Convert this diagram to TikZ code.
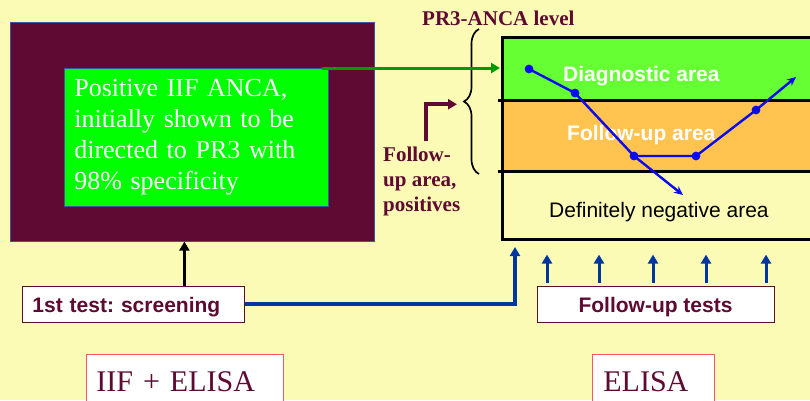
\documentclass[tikz,border=0pt]{standalone}
\usepackage{fontspec}
\setmainfont{Liberation Serif}
\setsansfont{Liberation Sans}
\frenchspacing
\usepackage{tikz}
\usetikzlibrary{arrows.meta}
\usetikzlibrary{decorations.pathreplacing}
\definecolor{bg}{HTML}{FCFBB6}
\definecolor{wine}{HTML}{5E0A32}
\definecolor{diaggreen}{HTML}{66FF33}
\definecolor{fuporange}{HTML}{FFC34F}
\definecolor{navy}{HTML}{0036A0}
\definecolor{trend}{HTML}{0A0AF0}
\definecolor{pinkline}{HTML}{FF5566}
\definecolor{rim}{HTML}{3B55A8}
\tikzset{>=Stealth}
\tikzstyle{line} = [draw, -{Triangle[length=9pt,width=10pt]}]

\begin{document}
\begin{tikzpicture}[x=1pt, y=-1pt,
		box/.style={draw=wine, fill=white, line width=0.8pt, rectangle,
			anchor=base west, inner ysep=4pt, text height=22pt, text depth=6pt,
			text=wine, font=\sffamily\bfseries\fontsize{21}{25}\selectfont},
		method/.style={draw=pinkline, fill=white, line width=0.8pt, rectangle,
			anchor=base west, inner xsep=10pt, inner ysep=15pt, text height=22pt,
			text depth=20pt, align=left, text=wine, font=\fontsize{30}{36}\selectfont},
		area/.style={anchor=base west, inner sep=0pt,
			font=\sffamily\fontsize{21}{25}\selectfont},
		winetext/.style={anchor=base west, inner sep=0pt, align=left, text=wine,
			font=\bfseries\fontsize{21}{25}\selectfont}]
		\useasboundingbox (0,0) rectangle (810,400);
		\clip (0,0) rectangle (810,400);
		\fill [bg] (0,0) rectangle (810,400);
		%% Screening result
		\node [rectangle, fill=wine, draw=rim, line width=0.6pt, inner sep=0pt,
			minimum width=364pt, minimum height=219pt, anchor=north west] at (10,22) (outer) {};
		\node [rectangle, fill=green, draw=rim, line width=0.6pt, inner xsep=10pt,
			text width=244pt, minimum height=138pt, align=left, anchor=north west,
			text=white, font=\fontsize{26}{31}\selectfont] at (64,68) (posbox)
			{Positive IIF ANCA,\\initially shown to be\\directed to PR3 with\\98\% specificity};
		%% Level chart
		\fill [diaggreen] (502,37) rectangle (810,100);
		\fill [fuporange] (502,100) rectangle (810,171);
		\coordinate (chartnw) at (502,37);
		\coordinate (chartsw) at (502,239);
		\draw [line width=3pt] (810,37) -- (chartnw) -- (chartsw) -- (810,239);
		\draw [line width=3pt] (498,100) -- (810,100);
		\draw [line width=3pt] (498,171) -- (810,171);
		\node [area, text=white, font=\sffamily\bfseries\fontsize{21}{25}\selectfont] at (563,81) (diag) {Diagnostic area};
		\node [area, text=white, font=\sffamily\bfseries\fontsize{21}{25}\selectfont] at (567,140) (fup) {Follow-up area};
		\node [area] at (549,217) (neg) {Definitely negative area};
		\node [winetext] at (422,25) (level) {PR3-ANCA level};
		\node [winetext] at (383,211) (fpos) {Follow-\\up area,\\positives};
		\draw [decorate, decoration={brace, amplitude=15pt}, line width=1.7pt] (479,174) -- (479,29);
		%% Course of the level
		\coordinate (t1) at (529,69);
		\coordinate (t2) at (575,93);
		\coordinate (t3) at (634,156);
		\coordinate (t4) at (696,156);
		\coordinate (t5) at (756,110);
		\coordinate (t6) at (796,77);
		\coordinate (t7) at (683,195);
		\draw [trend, line width=2.4pt, -{Stealth[length=9pt,width=8pt]}] (t1) -- (t2) -- (t3) -- (t4) -- (t5) -- (t6);
		\draw [trend, line width=2.4pt, -{Stealth[length=9pt,width=8pt]}] (t3) -- (t7);
		\foreach \p in {t1,t2,t3,t4,t5}
			\fill [trend] (\p) circle (4.4pt);
		%% Tests
		\node [box, inner xsep=10pt, text width=202pt, align=left] at (22,312) (screen) {1st test: screening};
		\node [box, anchor=base, minimum width=237pt] at (655.5,312) (follow) {Follow-up tests};
		\node [method, text width=177pt] at (86,391) (iif) {IIF + ELISA};
		\node [method, inner xsep=11pt, text width=100pt] at (592,391) (elisa) {ELISA};
		%% Flows
		\coordinate (diagin) at (500,68);
		\path [line, draw=green!60!black, line width=3pt] ([xshift=-7pt]posbox.north east) -- (diagin);
		\path [line, draw=wine, line width=3.5pt] ([xshift=43pt,yshift=5pt]fpos.north west) -- ++(0,-37) -- ++(31,0);
		\path [line, line width=3pt] ([xshift=51pt]screen.north) -- ++(0,-44);
		\path [line, draw=navy, line width=3.4pt] (screen.east) -| ([xshift=13pt,yshift=-8pt]chartsw);
		\path ([yshift=3pt]follow.north) coordinate (fuptop);
		\foreach \x in {547,599,653,706,766}
			\path [line, draw=navy, line width=3pt] (fuptop -| \x,0) -- ++(0,-28);
	\end{tikzpicture}
\end{document}
